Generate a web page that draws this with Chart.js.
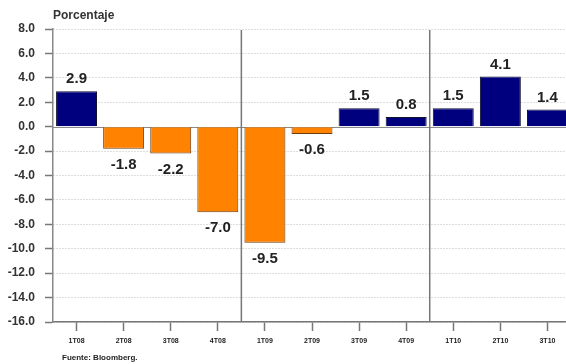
<!DOCTYPE html>
<html lang="es">
<head>
<meta charset="utf-8">
<title>Variación trimestral (%)</title>
<script src="https://cdn.jsdelivr.net/npm/chart.js@4/dist/chart.umd.min.js"></script>
<style>
  html, body { margin: 0; padding: 0; background: #fff; overflow: hidden; }
  #wrap { position: relative; width: 566px; height: 364px; overflow: hidden; }
  canvas { position: absolute; left: 0; top: 0; }
  .note { position: absolute; font-family: "Liberation Sans", Arial, sans-serif; color: #222; white-space: nowrap; }
  #unit { left: 53px; top: 8px; font-size: 12px; font-weight: bold; color: #333; }
  #source { left: 62px; top: 353px; font-size: 8px; font-weight: bold; }
</style>
</head>
<body>
<div id="wrap">
  <canvas id="chart" width="580" height="364"></canvas>
  <div class="note" id="unit">Porcentaje</div>
  <div class="note" id="source">Fuente: Bloomberg.</div>
</div>
<script>
// Quarterly change, percent
const quarters = ["1T08", "2T08", "3T08", "4T08", "1T09", "2T09", "3T09", "4T09", "1T10", "2T10", "3T10"];
const values = [2.9, -1.8, -2.2, -7.0, -9.5, -0.6, 1.5, 0.8, 1.5, 4.1, 1.4];
// year boundaries: separator drawn after these category indices
const yearBreaks = [3, 7];
const yMin = -16;
const yMax = 8;
const yStep = 2;

const NAVY = "#00007f";
const ORANGE = "#ff8200";
const FONT = "'Liberation Sans', Arial, sans-serif";

const zeroLinePlugin = {
  id: "zeroLine",
  beforeDatasetsDraw(chart) {
    const { ctx, chartArea, scales } = chart;
    const y = Math.round(scales.y.getPixelForValue(0)) + 0.5;
    ctx.save();
    ctx.strokeStyle = "#8a8a8a";
    ctx.lineWidth = 1;
    ctx.beginPath();
    ctx.moveTo(chartArea.left, y);
    ctx.lineTo(chartArea.right, y);
    ctx.stroke();

    // year separators
    ctx.strokeStyle = "#777";
    ctx.lineWidth = 1.5;
    yearBreaks.forEach(i => {
      const x = (scales.x.getPixelForTick(i) + scales.x.getPixelForTick(i + 1)) / 2;
      ctx.beginPath();
      ctx.moveTo(x, chartArea.top + 1);
      ctx.lineTo(x, chartArea.bottom);
      ctx.stroke();
    });
    ctx.restore();
  }
};

const valueLabelPlugin = {
  id: "valueLabels",
  afterDatasetsDraw(chart) {
    const { ctx } = chart;
    const meta = chart.getDatasetMeta(0);
    ctx.save();
    ctx.font = "bold 15px " + FONT;
    ctx.fillStyle = "#222";
    ctx.textAlign = "center";
    ctx.textBaseline = "alphabetic";
    meta.data.forEach((bar, i) => {
      const v = values[i];
      const txt = v.toFixed(1);
      if (v >= 0) {
        ctx.fillText(txt, bar.x, bar.y - 8);
      } else {
        ctx.fillText(txt, bar.x, bar.y + 20);
      }
    });
    ctx.restore();
  }
};

new Chart(document.getElementById("chart"), {
  type: "bar",
  data: {
    labels: quarters,
    datasets: [{
      data: values,
      backgroundColor: values.map(v => (v >= 0 ? NAVY : ORANGE)),
      borderColor: values.map(v => (v >= 0 ? "#101030" : "#6a3a10")),
      borderWidth: 1,
      barPercentage: 0.87,
      categoryPercentage: 1.0
    }]
  },
  options: {
    responsive: false,
    animation: false,
    devicePixelRatio: 1,
    layout: { padding: { top: 29, left: 0, right: 9, bottom: 0 } },
    plugins: {
      legend: { display: false },
      tooltip: { enabled: false }
    },
    scales: {
      x: {
        offset: true,
        grid: {
          offset: false,
          drawOnChartArea: false,
          drawTicks: true,
          tickLength: 9,
          tickColor: "#777",
          tickWidth: 1.5
        },
        border: { display: true, color: "#777", width: 1.5 },
        ticks: {
          color: "#222",
          padding: 6,
          maxRotation: 0,
          autoSkip: false,
          font: { family: FONT, size: 7, weight: "bold" }
        },
        afterFit(scale) { scale.height = 42; }
      },
      y: {
        min: yMin,
        max: yMax,
        grid: {
          color: ctx => (ctx.tick && ctx.tick.value === 0 ? "rgba(0,0,0,0)" : "#bdbdbd"),
          lineWidth: 1,
          drawTicks: true,
          tickLength: 8,
          tickColor: "#777",
          tickWidth: 1.5,
          tickBorderDash: []
        },
        border: { display: true, color: "#888", width: 1.5, dash: [1, 2] },
        ticks: {
          stepSize: yStep,
          color: "#333",
          padding: 10,
          font: { family: FONT, size: 12, weight: "bold" },
          callback: v => Number(v).toFixed(1)
        },
        afterFit(scale) { scale.width = 53; }
      }
    }
  },
  plugins: [zeroLinePlugin, valueLabelPlugin]
});
</script>
</body>
</html>
